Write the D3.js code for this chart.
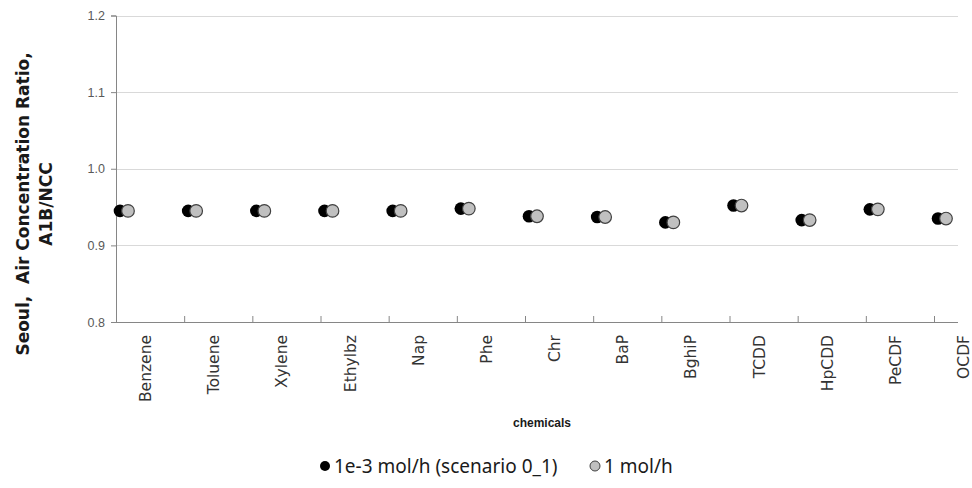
<!DOCTYPE html>
<html>
<head>
<meta charset="utf-8">
<script src="https://cdn.jsdelivr.net/npm/d3@7"></script>
<style>
  html, body { margin: 0; padding: 0; background: #fff; }
  svg { display: block; }
</style>
</head>
<body>
<svg id="chart" width="972" height="488"></svg>
<script>
// Air concentration ratio (A1B / NCC) for Seoul, per chemical
const chemicals = ["Benzene", "Toluene", "Xylene", "Ethylbz", "Nap", "Phe", "Chr",
                   "BaP", "BghiP", "TCDD", "HpCDD", "PeCDF", "OCDF"];
const lowEmission = [0.945, 0.945, 0.945, 0.945, 0.945, 0.948, 0.938,
                     0.937, 0.930, 0.952, 0.933, 0.947, 0.935];
const highEmission = [0.945, 0.945, 0.945, 0.945, 0.945, 0.948, 0.938,
                      0.937, 0.930, 0.952, 0.933, 0.947, 0.935];
const yTicks = [0.8, 0.9, 1.0, 1.1, 1.2];
const seriesNames = ["1e-3 mol/h (scenario 0_1)", "1 mol/h"];

const svg = d3.select("#chart");
const plotLeft = 116, plotRight = 958, plotTop = 15.5, plotBottom = 322;

const x = d3.scalePoint().domain(chemicals).range([plotLeft, 934]);
const y = d3.scaleLinear().domain([0.8, 1.2]).range([plotBottom, plotTop]);

// gridlines
svg.append("g").selectAll("line")
  .data(yTicks.filter(t => t > 0.8))
  .join("line")
  .attr("x1", plotLeft).attr("x2", plotRight)
  .attr("y1", d => Math.round(y(d)) + 0.5).attr("y2", d => Math.round(y(d)) + 0.5)
  .attr("stroke", "#d9d9d9").attr("stroke-width", 1);

// y axis
const yAxis = svg.append("g").attr("transform", `translate(${plotLeft},0)`)
  .call(d3.axisLeft(y).tickValues(yTicks).tickFormat(d3.format(".1f")).tickSize(5).tickPadding(6));
yAxis.select(".domain").attr("stroke", "#868686");
yAxis.selectAll(".tick line").attr("stroke", "#868686");
yAxis.selectAll(".tick text").attr("fill", "#595959")
  .style("font-family", "'Liberation Sans', Arial, sans-serif").style("font-size", "12.5px");

// x axis: ticks point inward, labels sit between ticks
const xAxis = svg.append("g").attr("transform", `translate(0,${plotBottom})`)
  .call(d3.axisBottom(x).tickSizeInner(-6).tickSizeOuter(0).tickFormat(""));
xAxis.select(".domain").attr("d", `M${plotLeft - 4},0.5H${plotRight}`).attr("stroke", "#868686");
xAxis.selectAll(".tick line").attr("stroke", "#868686");

svg.append("g").selectAll("text")
  .data(chemicals)
  .join("text")
  .attr("transform", d => `translate(${x(d) + 35},${plotBottom + 13}) rotate(-90)`)
  .attr("text-anchor", "end")
  .attr("fill", "#333")
  .style("font-family", "'DejaVu Sans', Verdana, sans-serif")
  .style("font-size", "15.5px")
  .text(d => d);

// points
const r = 6.3;
svg.append("g").selectAll("circle")
  .data(chemicals)
  .join("circle")
  .attr("cx", d => x(d) + 4).attr("cy", (d, i) => y(lowEmission[i]))
  .attr("r", r).attr("fill", "#000");
svg.append("g").selectAll("circle")
  .data(chemicals)
  .join("circle")
  .attr("cx", d => x(d) + 12).attr("cy", (d, i) => y(highEmission[i]))
  .attr("r", r).attr("fill", "#c0c0c0").attr("stroke", "#404040").attr("stroke-width", 1.2);

// axis titles
const yTitle = svg.append("text")
  .attr("transform", "translate(0,204) rotate(-90)")
  .attr("text-anchor", "middle")
  .attr("fill", "#1a1a1a")
  .style("font-family", "'DejaVu Sans', Verdana, sans-serif")
  .style("font-size", "17px").style("font-weight", "bold");
yTitle.append("tspan").attr("x", 0).attr("y", 29).attr("xml:space", "preserve").text("Seoul,  Air Concentration Ratio,");
yTitle.append("tspan").attr("x", 0).attr("y", 52).text("A1B/NCC");

svg.append("text")
  .attr("x", 542).attr("y", 427)
  .attr("text-anchor", "middle").attr("fill", "#1a1a1a")
  .style("font-family", "'Liberation Sans', Arial, sans-serif")
  .style("font-size", "12px").style("font-weight", "bold")
  .text("chemicals");

// legend
const legend = svg.append("g").attr("transform", "translate(325,466)");
const legItems = [
  { name: seriesNames[0], fill: "#000", stroke: "none", x: 0 },
  { name: seriesNames[1], fill: "#c0c0c0", stroke: "#404040", x: 270 }
];
const li = legend.selectAll("g").data(legItems).join("g")
  .attr("transform", d => `translate(${d.x},0)`);
li.append("circle").attr("r", 5).attr("fill", d => d.fill)
  .attr("stroke", d => d.stroke).attr("stroke-width", 1);
li.append("text").attr("x", 9).attr("y", 6.5)
  .attr("fill", "#1a1a1a")
  .style("font-family", "'Noto Sans', 'Open Sans', sans-serif")
  .style("font-size", "19px")
  .text(d => d.name);
</script>
</body>
</html>
